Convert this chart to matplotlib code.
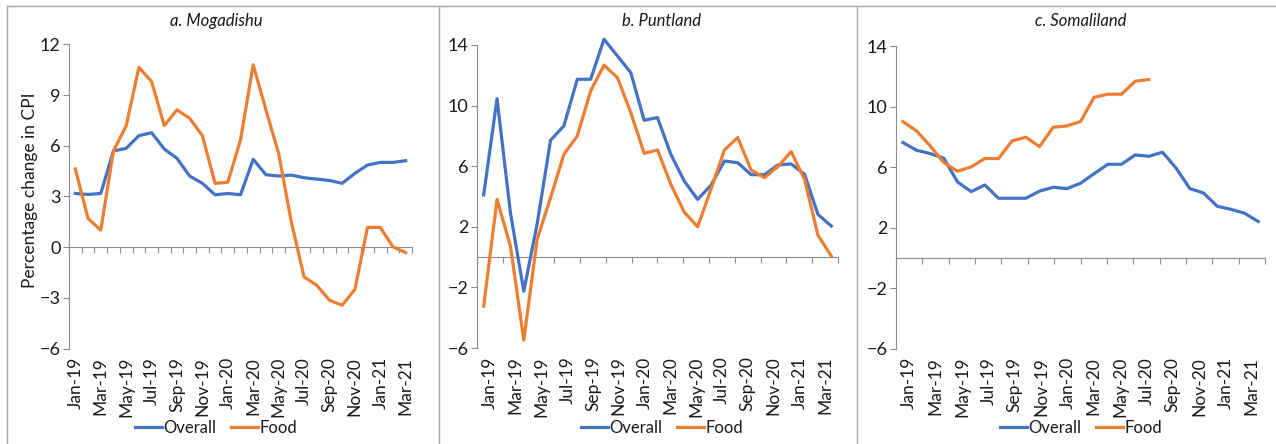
import numpy as np
import matplotlib.pyplot as plt
from matplotlib.lines import Line2D

plt.rcParams['font.family'] = ['Lato', 'DejaVu Sans']

# Monthly CPI change (%), Jan-19 .. Mar-21
months = ["Jan-19", "Feb-19", "Mar-19", "Apr-19", "May-19", "Jun-19", "Jul-19",
          "Aug-19", "Sep-19", "Oct-19", "Nov-19", "Dec-19", "Jan-20", "Feb-20",
          "Mar-20", "Apr-20", "May-20", "Jun-20", "Jul-20", "Aug-20", "Sep-20",
          "Oct-20", "Nov-20", "Dec-20", "Jan-21", "Feb-21", "Mar-21"]
tick_labels = months[::2]

mog_overall = [3.18, 3.12, 3.18, 5.70, 5.85, 6.60, 6.78, 5.81, 5.26, 4.21, 3.78, 3.10,
               3.18, 3.10, 5.20, 4.29, 4.21, 4.27, 4.11, 4.03, 3.95, 3.78, 4.37, 4.86,
               5.02, 5.02, 5.12]
mog_food = [4.63, 1.70, 1.01, 5.70, 7.18, 10.64, 9.81, 7.20, 8.13, 7.63, 6.60, 3.78,
            3.84, 6.35, 10.80, 8.13, 5.56, 1.50, -1.76, -2.25, -3.14, -3.44, -2.51, 1.17,
            1.17, 0.02, -0.32]

put_overall = [4.10, 10.46, 2.93, -2.25, 2.20, 7.71, 8.66, 11.74, 11.74, 14.38, 13.28, 12.18,
               9.03, 9.21, 6.78, 5.02, 3.81, 4.74, 6.34, 6.23, 5.44, 5.44, 6.08, 6.15,
               5.46, 2.82, 2.05]
put_food = [-3.24, 3.81, 0.73, -5.48, 1.17, 3.92, 6.78, 8.00, 10.97, 12.67, 11.85, 9.54,
            6.85, 7.07, 4.80, 2.97, 2.00, 4.47, 7.07, 7.89, 5.75, 5.24, 5.97, 6.96,
            5.13, 1.45, 0.07]

som_overall = [7.64, 7.13, 6.91, 6.60, 5.03, 4.39, 4.83, 3.95, 3.95, 3.95, 4.42, 4.68,
               4.59, 4.94, 5.58, 6.20, 6.20, 6.82, 6.73, 7.00, 5.94, 4.59, 4.30, 3.42,
               3.22, 2.96, 2.41]
som_food = [9.03, 8.41, 7.42, 6.31, 5.74, 6.03, 6.58, 6.58, 7.75, 7.99, 7.37, 8.65,
            8.74, 9.03, 10.64, 10.84, 10.84, 11.70, 11.81]

BLUE = "#4472C4"
ORANGE = "#ED7D31"
GRAY = "#8c8c8c"
TEXT = "#1a1a1a"

W, H = 1276, 444
fig = plt.figure(figsize=(W / 100, H / 100), dpi=100)

# (title, overall, food, y ticks, axes box in px (x0, x1, ytop, ybottom), centre x, tick every month)
panels = [
    ("a. Mogadishu", mog_overall, mog_food, np.arange(-6, 13, 3), (69, 412, 44.5, 348.5), 216, True),
    ("b. Puntland", put_overall, put_food, np.arange(-6, 15, 4), (477, 838, 45, 348), 662, False),
    ("c. Somaliland", som_overall, som_food, np.arange(-6, 15, 4), (896, 1265, 46.5, 348.5), 1081, False),
]

n = len(months)
x = np.arange(n)

for title, overall, food, yticks, box, cx, every_month in panels:
    x0, x1, yt, yb = box
    ax = fig.add_axes([x0 / W, 1 - yb / H, (x1 - x0) / W, (yb - yt) / H])
    ax.plot(x[:len(overall)], overall, color=BLUE, lw=2.3, label="Overall", clip_on=False)
    ax.plot(x[:len(food)], food, color=ORANGE, lw=2.3, label="Food", clip_on=False)

    ymin, ymax = yticks[0], yticks[-1]
    ax.set_xlim(-0.5, n - 0.5)
    ax.set_ylim(ymin, ymax)
    ax.set_yticks(yticks)

    for s in ["top", "right", "bottom"]:
        ax.spines[s].set_visible(False)
    ax.spines["left"].set_color(GRAY)
    ax.tick_params(axis="y", direction="out", length=4, color=GRAY,
                   labelsize=13, labelcolor=TEXT, pad=2)

    if every_month:
        tick_pos = np.arange(-0.5, n, 1.0)
        label_pos = x[::2]
    else:
        tick_pos = np.linspace(-0.5, n - 0.5, len(tick_labels) + 1)
        label_pos = (tick_pos[:-1] + tick_pos[1:]) / 2

    ax.set_xticks(label_pos, tick_labels, rotation=90)
    ax.tick_params(axis="x", length=0, pad=6, labelsize=12.5, labelcolor=TEXT)

    # horizontal axis line at zero with tick marks
    zero = ax.secondary_xaxis((0 - ymin) / (ymax - ymin))
    zero.set_xticks(tick_pos)
    zero.tick_params(direction="out", length=4, color=GRAY,
                     labelbottom=False, labeltop=False)
    for s in zero.spines.values():
        s.set_color(GRAY)

    fig.text(cx / W, 1 - 21 / H, title, style="italic", ha="center", va="center",
             fontsize=12, color=TEXT)

    handles, labels = ax.get_legend_handles_labels()
    fig.legend(handles, labels, loc="center", bbox_to_anchor=(cx / W, 1 - 428 / H),
               ncol=2, frameon=False, handlelength=1.6, handletextpad=0.1,
               columnspacing=0.9, fontsize=12, labelcolor=TEXT)

fig.text(30 / W, 1 - 190 / H, "Percentage change in CPI", rotation=90,
         ha="center", va="center", fontsize=12.5, color=TEXT)

# chart-area borders
border = "#a6a6a6"
fig.add_artist(Line2D([7 / W, 1], [1 - 6 / H] * 2, color=border, lw=1, transform=fig.transFigure))
for bx in (7, 439, 857):
    fig.add_artist(Line2D([bx / W] * 2, [0, 1 - 6 / H], color=border, lw=1, transform=fig.transFigure))

fig.savefig("out.png", dpi=100)
